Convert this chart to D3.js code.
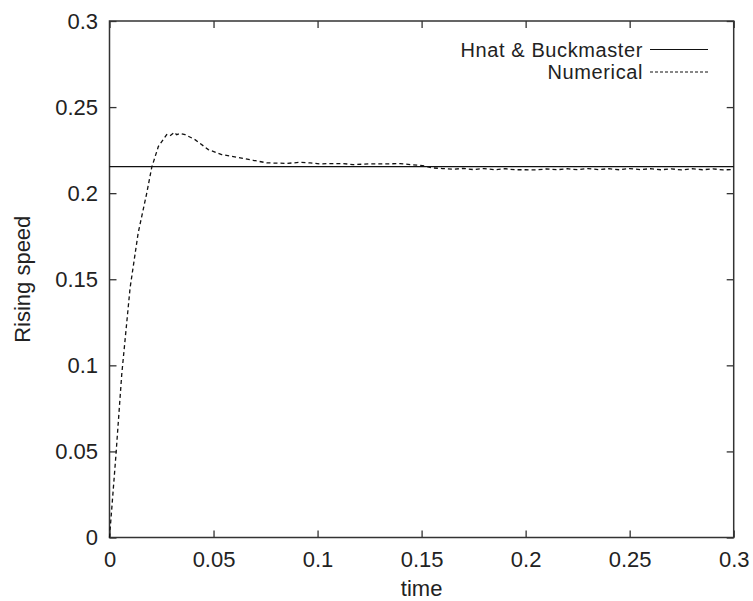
<!DOCTYPE html>
<html>
<head>
<meta charset="utf-8">
<script src="https://d3js.org/d3.v7.min.js"></script>
<style>
  body { margin: 0; background: #fff; }
  text { font-family: "Liberation Sans", Arial, sans-serif; fill: #222; }
</style>
</head>
<body>
<div id="chart"></div>
<script>
// numerical rising speed
var timeNum = [0, 0.0031, 0.0059, 0.0099, 0.0138, 0.0179, 0.0203, 0.0235, 0.0275, 0.0291,
  0.0312, 0.0323, 0.0339, 0.0363, 0.0411, 0.0475, 0.0539, 0.0588, 0.069, 0.0756,
  0.0852, 0.0916, 0.0964, 0.1012, 0.106, 0.1123, 0.1171, 0.1252, 0.1333, 0.1397,
  0.145, 0.1505, 0.155, 0.16, 0.165, 0.17, 0.175, 0.18, 0.185, 0.19,
  0.195, 0.2, 0.205, 0.21, 0.215, 0.22, 0.225, 0.23, 0.235, 0.24,
  0.245, 0.25, 0.255, 0.26, 0.265, 0.27, 0.275, 0.28, 0.285, 0.29,
  0.295, 0.3];
var speedNum = [0, 0.048, 0.095, 0.145, 0.177, 0.2, 0.215, 0.2272, 0.234, 0.2333,
  0.2353, 0.234, 0.2347, 0.234, 0.2311, 0.2253, 0.2224, 0.2214, 0.2191, 0.2176,
  0.2173, 0.2179, 0.2176, 0.217, 0.2172, 0.2172, 0.2166, 0.217, 0.217, 0.2172,
  0.2165, 0.216, 0.2147, 0.2143, 0.2139, 0.2144, 0.2137, 0.2143, 0.2136, 0.2142,
  0.2136, 0.2136, 0.2135, 0.2141, 0.2136, 0.2142, 0.2136, 0.2143, 0.2137, 0.2142,
  0.2136, 0.2143, 0.2137, 0.2142, 0.2136, 0.2141, 0.2135, 0.2142, 0.2136, 0.2141,
  0.2135, 0.2138];
// Hnat & Buckmaster terminal speed
var hnatSpeed = 0.2154;

var xTicks = [0, 0.05, 0.1, 0.15, 0.2, 0.25, 0.3];
var yTicks = [0, 0.05, 0.1, 0.15, 0.2, 0.25, 0.3];
var legendNames = ["Hnat & Buckmaster", "Numerical"];

var W = 753, H = 601;
var margin = {top: 21, right: 19.3, bottom: 63.5, left: 109.5};
var width = W - margin.left - margin.right,
    height = H - margin.top - margin.bottom;

var svg = d3.select("#chart").append("svg")
    .attr("width", W).attr("height", H);
var g = svg.append("g")
    .attr("transform", "translate(" + margin.left + "," + margin.top + ")");

var x = d3.scaleLinear().domain([0, 0.3]).range([0, width]);
var y = d3.scaleLinear().domain([0, 0.3]).range([height, 0]);

var fmt = function(d) { return d3.format("")(+d.toFixed(2)); };

// axes with inward ticks (mirrored)
var axisColor = "#333";
function styleAxis(sel) {
  sel.select(".domain").remove();
  sel.selectAll(".tick line").attr("stroke", axisColor).attr("stroke-width", 1.3);
  sel.selectAll(".tick text").style("font-size", "22px").attr("fill", "#222");
}
g.append("g").attr("transform", "translate(0," + height + ")")
  .call(d3.axisBottom(x).tickValues(xTicks).tickFormat(fmt).tickSizeInner(-7).tickPadding(14))
  .call(styleAxis);
g.append("g")
  .call(d3.axisTop(x).tickValues(xTicks).tickFormat("").tickSizeInner(-7))
  .call(styleAxis);
g.append("g")
  .call(d3.axisLeft(y).tickValues(yTicks).tickFormat(fmt).tickSizeInner(-7).tickPadding(11.5))
  .call(styleAxis);
g.append("g").attr("transform", "translate(" + width + ",0)")
  .call(d3.axisRight(y).tickValues(yTicks).tickFormat("").tickSizeInner(-7))
  .call(styleAxis);

g.append("rect")
  .attr("width", width).attr("height", height)
  .attr("fill", "none").attr("stroke", axisColor).attr("stroke-width", 1.5);

// analytic line
g.append("line")
  .attr("x1", x(0)).attr("x2", x(0.3))
  .attr("y1", y(hnatSpeed)).attr("y2", y(hnatSpeed))
  .attr("stroke", "#111").attr("stroke-width", 1.3);

// numerical curve
var numData = timeNum.map(function(t, i) { return [t, speedNum[i]]; });
g.append("path")
  .datum(numData)
  .attr("fill", "none")
  .attr("stroke", "#111")
  .attr("stroke-width", 1.3)
  .attr("stroke-dasharray", "4,3")
  .attr("d", d3.line().x(function(d) { return x(d[0]); }).y(function(d) { return y(d[1]); }));

// legend
var leg = g.selectAll(".leg").data(legendNames).enter().append("g")
  .attr("transform", function(d, i) { return "translate(0," + (28.5 + i * 22.5) + ")"; });
leg.append("text")
  .attr("x", 533.5).attr("y", 0).attr("dy", "0.35em")
  .attr("text-anchor", "end")
  .style("font-size", "20px")
  .style("letter-spacing", "0.6px")
  .text(function(d) { return d; });
leg.append("line")
  .attr("x1", 540.5).attr("x2", 598.5)
  .attr("stroke", "#111").attr("stroke-width", 1.1)
  .attr("stroke-dasharray", function(d, i) { return i ? "3,2" : null; });

// axis titles
svg.append("text")
  .attr("x", margin.left + width / 2).attr("y", 596)
  .attr("text-anchor", "middle").style("font-size", "22px")
  .text("time");
svg.append("text")
  .attr("transform", "translate(30," + (margin.top + height / 2) + ") rotate(-90)")
  .attr("text-anchor", "middle").style("font-size", "22px")
  .text("Rising speed");
</script>
</body>
</html>
